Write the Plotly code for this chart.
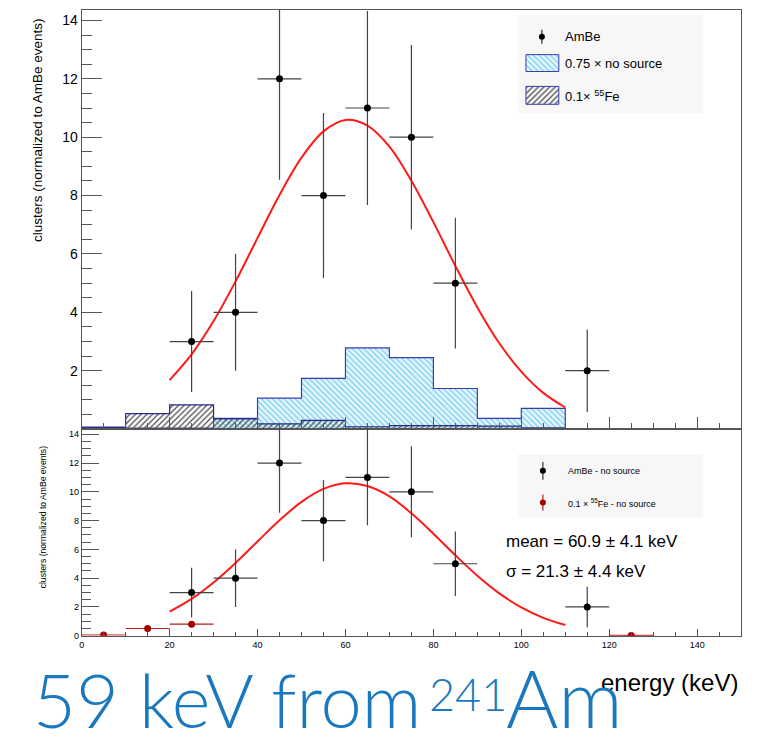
import plotly.graph_objects as go

# ---------------- data ----------------
ambe_x = [25, 35, 45, 55, 65, 75, 85, 115]
ambe_y = [3, 4, 12, 8, 11, 10, 5, 2]
ambe_yerr = [1.73, 2.0, 3.46, 2.83, 3.32, 3.16, 2.24, 1.41]
ambe_xerr = [5, 5, 5, 5, 5, 5, 5, 5]

# background histograms, 10 keV bins starting at bin_lo
nosource_lo = [0, 10, 20, 30, 40, 50, 60, 70, 80, 90, 100]
nosource_val = [0.05, 0.03, 0.03, 0.37, 1.06, 1.74, 2.78, 2.45, 1.39, 0.37, 0.71]
fe_lo = [0, 10, 20, 30, 40, 50, 60, 70, 80, 90, 100, 110, 120]
fe_val = [0.07, 0.53, 0.83, 0.35, 0.18, 0.30, 0.08, 0.12, 0.12, 0.10, 0.04, 0.0, 0.02]
bin_width = 10

# lower panel: 0.1 x 55Fe - no source
fe_sub_x = [5, 15, 25, 125]
fe_sub_y = [0.05, 0.5, 0.8, 0.02]
fe_sub_xerr = [5, 5, 5, 5]

# gaussian fit curve
fit_x = [20, 25, 30, 35, 40, 45, 50, 55, 60, 65, 70, 75, 80, 85, 90, 95, 100, 105, 110]
fit_y = [1.68, 2.56, 3.70, 5.06, 6.55, 8.02, 9.30, 10.20, 10.59, 10.40, 9.68, 8.51,
         7.09, 5.59, 4.17, 2.94, 1.97, 1.24, 0.74]

y_ticks = [0, 2, 4, 6, 8, 10, 12, 14]
x_ticks = [0, 20, 40, 60, 80, 100, 120, 140]

# ---------------- helpers ----------------
W, H = 769, 745
FONT = "Liberation Sans, Arial, Helvetica, sans-serif"
TITLE_FONT = "Lato, Roboto, sans-serif"


def step(lo, vals, w):
    xs = [lo[0]] + list(lo) + [lo[-1] + w, lo[-1] + w]
    ys = [0] + list(vals) + [vals[-1], 0]
    return xs, ys


fig = go.Figure()

BLUE_LINE = "#3b3bb0"
NS_PATTERN = dict(shape="\\", fgcolor="#74cdf0", bgcolor="#e6f6fd", size=4, solidity=0.3, fillmode="replace")
FE_PATTERN = dict(shape="/", fgcolor="#4a4a4a", bgcolor="rgba(0,0,0,0)", size=4, solidity=0.3, fillmode="replace")

# ---- top panel ----
sx, sy = step(nosource_lo, nosource_val, bin_width)
fig.add_trace(go.Scatter(x=sx, y=sy, mode="lines", line=dict(shape="hv", color=BLUE_LINE, width=1.2),
                         fill="tozeroy", fillpattern=NS_PATTERN, xaxis="x", yaxis="y", showlegend=False))
fx, fy = step(fe_lo, fe_val, bin_width)
fig.add_trace(go.Scatter(x=fx, y=fy, mode="lines", line=dict(shape="hv", color="#2a2a8a", width=1.2),
                         fill="tozeroy", fillpattern=FE_PATTERN, xaxis="x", yaxis="y", showlegend=False))
fig.add_trace(go.Scatter(x=fit_x, y=fit_y, mode="lines", line=dict(color="#ff1a1a", width=2, shape="spline"),
                         xaxis="x", yaxis="y", showlegend=False))
fig.add_trace(go.Scatter(x=ambe_x, y=ambe_y, mode="markers", marker=dict(color="black", size=7),
                         error_y=dict(type="data", array=ambe_yerr, color="#444", thickness=1.2, width=0),
                         error_x=dict(type="data", array=ambe_xerr, color="#444", thickness=1.2, width=0),
                         xaxis="x", yaxis="y", showlegend=False))

# ---- bottom panel ----
fig.add_trace(go.Scatter(x=fit_x, y=fit_y, mode="lines", line=dict(color="#ff1a1a", width=2, shape="spline"),
                         xaxis="x2", yaxis="y2", showlegend=False))
fig.add_trace(go.Scatter(x=fe_sub_x, y=fe_sub_y, mode="markers", marker=dict(color="#a30000", size=7),
                         error_x=dict(type="data", array=fe_sub_xerr, color="#c01818", thickness=1.2, width=0),
                         xaxis="x2", yaxis="y2", showlegend=False))
fig.add_trace(go.Scatter(x=ambe_x, y=ambe_y, mode="markers", marker=dict(color="black", size=7),
                         error_y=dict(type="data", array=ambe_yerr, color="#444", thickness=1.2, width=0),
                         error_x=dict(type="data", array=ambe_xerr, color="#444", thickness=1.2, width=0),
                         xaxis="x2", yaxis="y2", showlegend=False))

# ---- legend decorations on a pixel-unit overlay axis ----
fig.add_trace(go.Scatter(x=[541], y=[37], mode="markers", marker=dict(color="black", size=6),
                         error_y=dict(type="constant", value=7, color="#222", thickness=1.2, width=0),
                         xaxis="x3", yaxis="y3", showlegend=False, hoverinfo="skip"))
fig.add_trace(go.Bar(x=[541.5], y=[17], base=[55], width=[33], marker=dict(color="#e6f6fd", pattern=NS_PATTERN,
                     line=dict(color=BLUE_LINE, width=1)), xaxis="x3", yaxis="y3", showlegend=False, hoverinfo="skip"))
fig.add_trace(go.Bar(x=[541.5], y=[18], base=[87], width=[33], marker=dict(color="white", pattern=FE_PATTERN,
                     line=dict(color=BLUE_LINE, width=1)), xaxis="x3", yaxis="y3", showlegend=False, hoverinfo="skip"))
fig.add_trace(go.Scatter(x=[542], y=[474], mode="markers", marker=dict(color="black", size=6),
                         error_y=dict(type="constant", value=9, color="#333", thickness=1.2, width=0),
                         xaxis="x3", yaxis="y3", showlegend=False, hoverinfo="skip"))
fig.add_trace(go.Scatter(x=[542], y=[506], mode="markers", marker=dict(color="#a30000", size=6),
                         error_y=dict(type="constant", value=8, color="#c01818", thickness=1.2, width=0),
                         xaxis="x3", yaxis="y3", showlegend=False, hoverinfo="skip"))

AX = dict(showgrid=False, zeroline=False, showline=True, mirror=True, linecolor="#555", linewidth=1,
          ticks="inside", tickcolor="#555", tickwidth=1)

x_dom = [79 / W, 741 / W]
top_dom = [1 - 432 / H, 1 - 10 / H]
bot_dom = [1 - 640 / H, 1 - 432 / H]

fig.update_layout(
    width=W, height=H, margin=dict(l=0, r=0, t=0, b=0),
    paper_bgcolor="white", plot_bgcolor="rgba(0,0,0,0)",
    font=dict(family=FONT, color="black"),
    barmode="overlay", showlegend=False,
    xaxis=dict(AX, domain=x_dom, anchor="y", range=[0, 150], tickvals=x_ticks, showticklabels=False,
               ticklen=12, minor=dict(dtick=5, tick0=0, ticklen=6, ticks="inside", tickcolor="#555")),
    yaxis=dict(AX, domain=top_dom, anchor="x", range=[0, 14.36], tickvals=y_ticks[1:],
               ticklen=20, tickfont=dict(size=14, family=FONT),
               minor=dict(dtick=0.5, tick0=0, ticklen=10, ticks="inside", tickcolor="#555")),
    xaxis2=dict(AX, domain=x_dom, anchor="y2", range=[0, 150], tickvals=x_ticks,
                ticklen=7, tickfont=dict(size=9, family=FONT),
                minor=dict(dtick=5, tick0=0, ticklen=4, ticks="inside", tickcolor="#555")),
    yaxis2=dict(AX, domain=bot_dom, anchor="x2", range=[0, 14.36], tickvals=y_ticks,
                ticklen=17, tickfont=dict(size=9, family=FONT),
                minor=dict(dtick=0.5, tick0=0, ticklen=9, ticks="inside", tickcolor="#555")),
    xaxis3=dict(domain=[0, 1], range=[0, W], visible=False, fixedrange=True),
    yaxis3=dict(domain=[0, 1], range=[H, 0], visible=False, fixedrange=True, anchor="x3"),
)

fig.add_shape(type="rect", xref="x3", yref="y3", x0=517, x1=703, y0=15, y1=114,
              fillcolor="#f7f7f7", line=dict(width=0), layer="below")
fig.add_shape(type="rect", xref="x3", yref="y3", x0=517, x1=703, y0=457, y1=521,
              fillcolor="#f7f7f7", line=dict(width=0), layer="below")


def txt(x, y, s, size, xanchor="left", color="black", family=FONT, angle=0, weight=None):
    f = dict(size=size, color=color, family=family)
    if weight:
        f["weight"] = weight
    fig.add_annotation(xref="x3", yref="y3", x=x, y=y, text=s, showarrow=False, xanchor=xanchor,
                       yanchor="middle", font=f, textangle=angle)


txt(562, 37, "AmBe", 13)
txt(562, 64, "0.75 × no source", 13)
txt(562, 97, "0.1× <sup>55</sup>Fe", 13)
txt(565, 474, "AmBe - no source", 9)
txt(565, 506, "0.1 × <sup>55</sup>Fe - no source", 9)
txt(503, 545, "mean = 60.9 ± 4.1 keV", 17)
txt(503, 575, "σ = 21.3 ± 4.4 keV", 17)
txt(34, 131, "clusters (normalized to AmBe events)", 13.5, xanchor="center", angle=-90)
txt(40, 521, "clusters (normalized to AmBe events)", 8.6, xanchor="center", angle=-90)
txt(740, 687, "energy (keV)", 24, xanchor="right")
txt(28, 704, "59 keV from", 74, color="#1a78be", family=TITLE_FONT, weight=300)
txt(426, 699, "241", 45, color="#1a78be", family=TITLE_FONT, weight=300)
txt(503, 702, "Am", 80, color="#1a78be", family=TITLE_FONT, weight=300)

fig.write_html("out.html")
